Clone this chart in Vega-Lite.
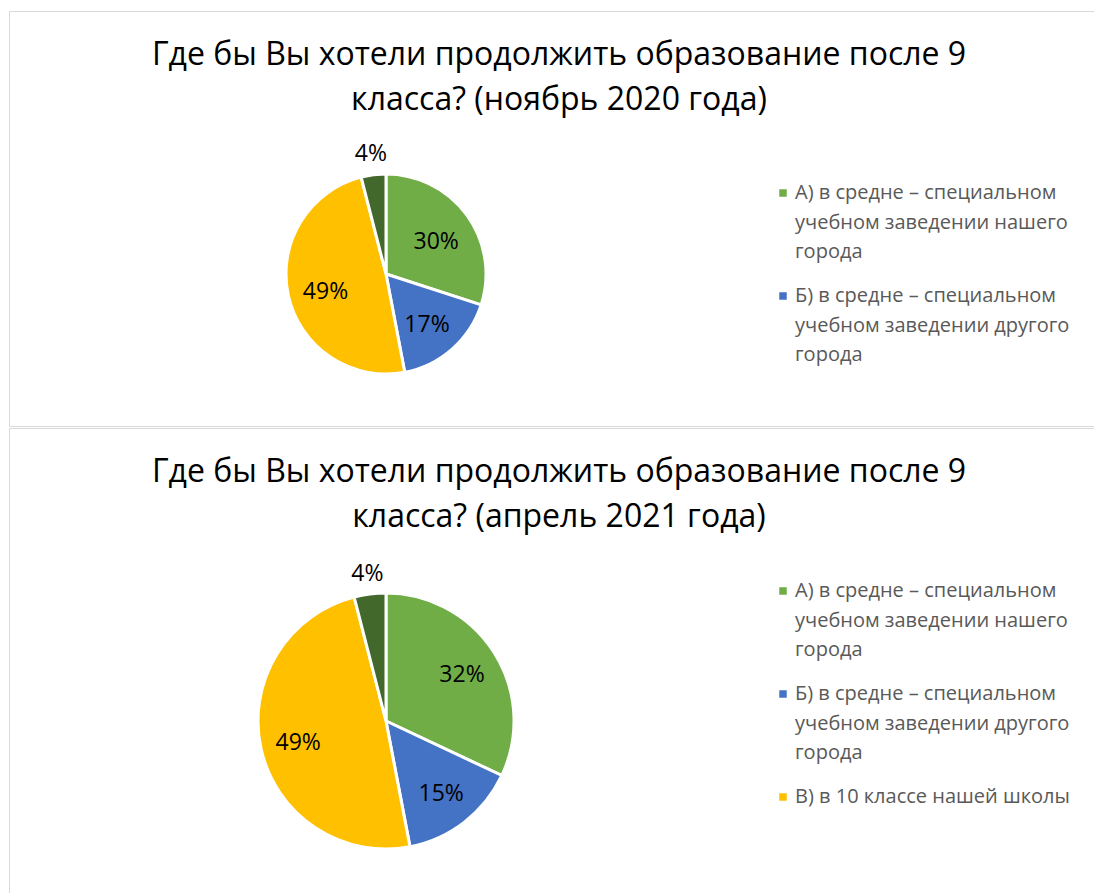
{
  "$schema": "https://vega.github.io/schema/vega-lite/v6.json",
  "padding": {"left": 8, "top": 10, "right": 0, "bottom": 0},
  "background": "white",
  "spacing": 0,
  "datasets": {
    "nov2020": [
      {"cat": "А) в средне – специальном учебном заведении нашего города", "value": 0.30},
      {"cat": "Б) в средне – специальном учебном заведении другого города", "value": 0.17},
      {"cat": "В) в 10 классе нашей школы", "value": 0.49},
      {"cat": "Г) другое", "value": 0.04}
    ],
    "apr2021": [
      {"cat": "А) в средне – специальном учебном заведении нашего города", "value": 0.32},
      {"cat": "Б) в средне – специальном учебном заведении другого города", "value": 0.15},
      {"cat": "В) в 10 классе нашей школы", "value": 0.49},
      {"cat": "Г) другое", "value": 0.04}
    ]
  },
  "config": {
    "view": {"stroke": "#D9D9D9", "strokeWidth": 1},
    "font": "Open Sans",
    "title": {"font": "Open Sans", "fontSize": 32, "fontWeight": "normal", "color": "#000000", "lineHeight": 45, "anchor": "middle"},
    "legend": {
      "symbolType": "square", "symbolSize": 56, "symbolStrokeWidth": 0,
      "labelFont": "Open Sans", "labelFontSize": 20, "labelColor": "#595959",
      "labelLimit": 400, "labelOffset": 2, "rowPadding": 24, "labelBaseline": "middle"
    },
    "style": {"guide-label": {"lineHeight": 29.5}}
  },
  "resolve": {"scale": {"color": "independent"}, "legend": {"color": "independent"}},
  "vconcat": [
    {
      "width": 1086,
      "height": 415,
      "view": {"stroke": "#D9D9D9", "strokeWidth": 1},
      "title": {"text": ["Где бы Вы хотели продолжить образование после 9", "класса? (ноябрь 2020 года)"], "offset": -106, "dx": 7},
      "data": {"name": "nov2020"},
      "encoding": {
        "theta": {"field": "value", "type": "quantitative", "stack": true},
        "order": {"field": "cat", "type": "ordinal"}
      },
      "layer": [
        {
          "mark": {"type": "arc", "outerRadius": 100, "stroke": "white", "strokeWidth": 3, "x": 377, "y": 263},
          "encoding": {
            "color": {
              "field": "cat", "type": "nominal",
              "scale": {
                "domain": ["А) в средне – специальном учебном заведении нашего города", "Б) в средне – специальном учебном заведении другого города", "В) в 10 классе нашей школы", "Г) другое"],
                "range": ["#70AD47", "#4472C4", "#FFC000", "#43682B"]
              },
              "legend": {
                "title": null, "orient": "none", "legendX": 764, "legendY": 172,
                "values": ["А) в средне – специальном учебном заведении нашего города", "Б) в средне – специальном учебном заведении другого города"],
                "labelExpr": "split(replace(replace(replace(datum.label, 'специальном ', 'специальном|'), 'нашего ', 'нашего|'), 'другого ', 'другого|'), '|')"
              }
            }
          }
        },
        {
          "mark": {"type": "text", "radius": 62, "x": 377, "y": 263, "dy": 4, "fontSize": 23, "color": "#000000", "font": "Open Sans"},
          "encoding": {
            "text": {"condition": {"test": "datum.value >= 0.1", "field": "value", "type": "quantitative", "format": ".0%"}, "value": ""}
          }
        },
        {
          "mark": {"type": "text", "radius": 121, "x": 377, "y": 263, "fontSize": 23, "color": "#000000", "font": "Open Sans"},
          "encoding": {
            "text": {"condition": {"test": "datum.value < 0.1", "field": "value", "type": "quantitative", "format": ".0%"}, "value": ""}
          }
        }
      ]
    },
    {
      "width": 1086,
      "height": 468,
      "view": {"stroke": "#D9D9D9", "strokeWidth": 1},
      "title": {"text": ["Где бы Вы хотели продолжить образование после 9", "класса? (апрель 2021 года)"], "offset": -106, "dx": 7},
      "data": {"name": "apr2021"},
      "encoding": {
        "theta": {"field": "value", "type": "quantitative", "stack": true},
        "order": {"field": "cat", "type": "ordinal"}
      },
      "layer": [
        {
          "mark": {"type": "arc", "outerRadius": 128, "stroke": "white", "strokeWidth": 3, "x": 377, "y": 293},
          "encoding": {
            "color": {
              "field": "cat", "type": "nominal",
              "scale": {
                "domain": ["А) в средне – специальном учебном заведении нашего города", "Б) в средне – специальном учебном заведении другого города", "В) в 10 классе нашей школы", "Г) другое"],
                "range": ["#70AD47", "#4472C4", "#FFC000", "#43682B"]
              },
              "legend": {
                "title": null, "orient": "none", "legendX": 764, "legendY": 153,
                "values": ["А) в средне – специальном учебном заведении нашего города", "Б) в средне – специальном учебном заведении другого города", "В) в 10 классе нашей школы"],
                "labelExpr": "split(replace(replace(replace(datum.label, 'специальном ', 'специальном|'), 'нашего ', 'нашего|'), 'другого ', 'другого|'), '|')"
              }
            }
          }
        },
        {
          "mark": {"type": "text", "radius": 90, "x": 377, "y": 293, "dy": 2, "fontSize": 23, "color": "#000000", "font": "Open Sans"},
          "encoding": {
            "text": {"condition": {"test": "datum.value >= 0.1", "field": "value", "type": "quantitative", "format": ".0%"}, "value": ""}
          }
        },
        {
          "mark": {"type": "text", "radius": 148, "x": 377, "y": 293, "fontSize": 23, "color": "#000000", "font": "Open Sans"},
          "encoding": {
            "text": {"condition": {"test": "datum.value < 0.1", "field": "value", "type": "quantitative", "format": ".0%"}, "value": ""}
          }
        }
      ]
    }
  ]
}
